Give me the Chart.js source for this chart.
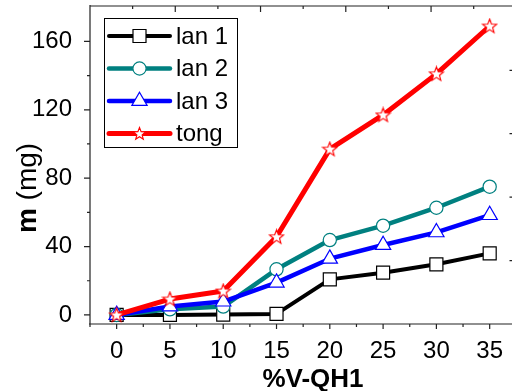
<!DOCTYPE html>
<html>
<head>
<meta charset="utf-8">
<script src="https://cdn.jsdelivr.net/npm/chart.js@4.4.1/dist/chart.umd.min.js"></script>
<style>
  html, body { margin: 0; padding: 0; background: #fff; overflow: hidden; }
  canvas { display: block; }
</style>
</head>
<body>
<canvas id="massChart" width="512" height="391"></canvas>
<script>
// %V-QH1 on the x axis, mass (mg) for each fraction
const X_VALUES = [0, 5, 10, 15, 20, 25, 30, 35];
const LAN1 = [0, 0, 0.2, 0.6, 20.8, 24.7, 29.6, 36];
const LAN2 = [0, 3.3, 4.9, 26.7, 43.8, 52.2, 62.7, 75];
const LAN3 = [0, 4.9, 7.8, 18.9, 32.9, 40.9, 48.3, 58.4];
const TONG = [0, 9.3, 14, 45.7, 97, 117, 141, 169];

const X_TICKS = [0, 5, 10, 15, 20, 25, 30, 35];
const Y_TICKS = [0, 40, 80, 120, 160];
// tick marks left over on the top and right edges of the frame
const TOP_TICKS = [1.5, 5.5, 9.5, 13.5, 17.5, 21.5, 25.5, 29.5, 33.5];
const RIGHT_TICKS = [31.8, 68.9, 106, 143.1];

const FONT = '"Liberation Sans", Arial, sans-serif';

function points(ys) {
    return ys.map((y, i) => ({ x: X_VALUES[i], y: y }));
}

// hollow five-point star marker
function makeStar(size, color) {
    const c = document.createElement('canvas');
    c.width = size;
    c.height = size;
    const g = c.getContext('2d');
    const cx = size / 2, cy = size / 2 + 0.5;
    const outer = size / 2 - 1, inner = outer * 0.42;
    g.beginPath();
    for (let i = 0; i < 10; i++) {
        const r = i % 2 ? inner : outer;
        const a = -Math.PI / 2 + i * Math.PI / 5;
        g.lineTo(cx + r * Math.cos(a), cy + r * Math.sin(a));
    }
    g.closePath();
    g.fillStyle = '#fff';
    g.fill();
    g.strokeStyle = color;
    g.lineWidth = 1.1;
    g.stroke();
    return c;
}

const starBig = makeStar(17, '#ff0000');
const starSmall = makeStar(15, '#ff0000');

function lineSet(label, data, color, width, style, radius, order) {
    return {
        label: label,
        data: points(data),
        borderColor: color,
        borderWidth: width,
        borderCapStyle: 'round',
        borderJoinStyle: 'round',
        pointStyle: style,
        pointRadius: radius,
        pointBackgroundColor: '#fff',
        pointBorderColor: color,
        pointBorderWidth: 1.2,
        order: order,
        tension: 0
    };
}

// no extra room around the plot for tick labels
function noPadding(s) {
    s.paddingTop = 0;
    s.paddingBottom = 0;
    s.paddingLeft = 0;
    s.paddingRight = 0;
}

// frame lines plus major/minor tick marks
const framePlugin = {
    id: 'frame',
    beforeDatasetsDraw(chart) {
        const ctx = chart.ctx;
        const a = chart.chartArea;
        const sx = chart.scales.x, sy = chart.scales.y;
        ctx.save();
        ctx.strokeStyle = '#222';
        ctx.lineWidth = 1.2;
        ctx.beginPath();
        ctx.moveTo(a.left, a.top - 1);
        ctx.lineTo(a.left, a.bottom + 3);
        ctx.moveTo(a.left - 1, a.bottom);
        ctx.lineTo(chart.width, a.bottom);
        ctx.moveTo(a.left, a.top);
        ctx.lineTo(chart.width, a.top);
        X_TICKS.forEach(v => {
            const px = sx.getPixelForValue(v);
            ctx.moveTo(px, a.bottom);
            ctx.lineTo(px, a.bottom + 5);
            const m = sx.getPixelForValue(v + 2.5);
            if (m < a.right) {
                ctx.moveTo(m, a.bottom);
                ctx.lineTo(m, a.bottom + 3);
            }
        });
        Y_TICKS.forEach((v, i) => {
            const py = sy.getPixelForValue(v);
            ctx.moveTo(a.left, py);
            ctx.lineTo(a.left - 6, py);
            if (i < Y_TICKS.length - 1) {
                const m = sy.getPixelForValue(v + 20);
                ctx.moveTo(a.left, m);
                ctx.lineTo(a.left - 3, m);
            }
        });
        TOP_TICKS.forEach((v, i) => {
            const px = sx.getPixelForValue(v);
            ctx.moveTo(px, a.top);
            ctx.lineTo(px, a.top + (i % 2 ? 6 : 3));
        });
        RIGHT_TICKS.forEach(v => {
            const py = sy.getPixelForValue(v);
            ctx.moveTo(chart.width - 2.5, py);
            ctx.lineTo(chart.width, py);
        });
        ctx.stroke();
        ctx.restore();
    }
};

// axis titles and the boxed legend
const labelPlugin = {
    id: 'labels',
    afterDraw(chart) {
        const ctx = chart.ctx;
        ctx.save();
        ctx.fillStyle = '#000';

        ctx.font = 'bold 26px ' + FONT;
        ctx.textAlign = 'center';
        ctx.textBaseline = 'alphabetic';
        ctx.fillText('%V-QH1', 313, 386.5);

        ctx.translate(36, 188);
        ctx.rotate(-Math.PI / 2);
        ctx.textAlign = 'left';
        const boldPart = 'm', plainPart = ' (mg)';
        ctx.font = 'bold 28px ' + FONT;
        const w1 = ctx.measureText(boldPart).width;
        ctx.font = '28px ' + FONT;
        const w2 = ctx.measureText(plainPart).width;
        const start = -(w1 + w2) / 2;
        ctx.font = 'bold 28px ' + FONT;
        ctx.fillText(boldPart, start, 0);
        ctx.font = '28px ' + FONT;
        ctx.fillText(plainPart, start + w1, 0);
        ctx.restore();

        ctx.save();
        ctx.strokeStyle = '#000';
        ctx.lineWidth = 1;
        ctx.fillStyle = '#fff';
        ctx.fillRect(104.5, 18.5, 133, 129);
        ctx.strokeRect(104.5, 18.5, 133, 129);
        chart.data.datasets.forEach((ds, i) => {
            const y = 36 + i * 32.5;
            ctx.strokeStyle = ds.borderColor;
            ctx.lineWidth = ds.borderWidth;
            ctx.lineCap = 'round';
            ctx.beginPath();
            ctx.moveTo(109, y);
            ctx.lineTo(170, y);
            ctx.stroke();
            ctx.fillStyle = '#fff';
            ctx.lineWidth = ds.pointBorderWidth;
            const style = ds.pointStyle === starBig ? starSmall : ds.pointStyle;
            Chart.helpers.drawPoint(ctx, {
                pointStyle: style,
                radius: ds.pointRadius,
                rotation: 0,
                borderWidth: ds.pointBorderWidth
            }, 139.5, y);
            ctx.fillStyle = '#000';
            ctx.font = '24px ' + FONT;
            ctx.textAlign = 'left';
            ctx.textBaseline = 'middle';
            ctx.fillText(ds.label, 176, y + 1);
        });
        ctx.restore();
    }
};

const tickFont = { family: FONT, size: 24 };

const massCtx = document.getElementById('massChart').getContext('2d');
const massChart = new Chart(massCtx, {
    type: 'line',
    data: {
        datasets: [
            lineSet('lan 1', LAN1, '#000000', 4, 'rect', 9.2, 4),
            lineSet('lan 2', LAN2, '#008080', 4.5, 'circle', 6.6, 3),
            lineSet('lan 3', LAN3, '#0000ff', 4.5, 'triangle', 8.8, 2),
            lineSet('tong', TONG, '#ff0000', 5, starBig, 8, 1)
        ]
    },
    options: {
        responsive: false,
        animation: false,
        devicePixelRatio: 1,
        events: [],
        layout: { autoPadding: false, padding: { top: 6, right: 1, left: 0, bottom: 0 } },
        plugins: {
            legend: { display: false },
            tooltip: { enabled: false }
        },
        scales: {
            x: {
                type: 'linear',
                min: -2.5,
                max: 37,
                grid: { display: false },
                border: { display: false },
                afterBuildTicks: s => { s.ticks = X_TICKS.map(v => ({ value: v })); },
                afterFit: s => { s.height = 67; noPadding(s); },
                ticks: { font: tickFont, color: '#000', padding: 5, maxRotation: 0, autoSkip: false }
            },
            y: {
                type: 'linear',
                min: -5.3,
                max: 180.7,
                grid: { display: false },
                border: { display: false },
                afterBuildTicks: s => { s.ticks = Y_TICKS.map(v => ({ value: v })); },
                afterFit: s => { s.width = 90; noPadding(s); },
                ticks: { font: tickFont, color: '#000', padding: 10, autoSkip: false }
            }
        }
    },
    plugins: [framePlugin, labelPlugin]
});
</script>
</body>
</html>
